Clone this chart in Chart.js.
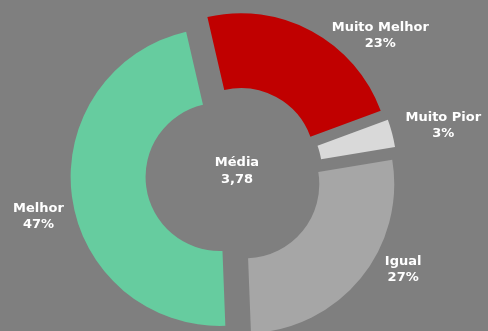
<!DOCTYPE html>
<html>
<head>
<meta charset="utf-8">
<script src="https://cdn.jsdelivr.net/npm/chart.js@4/dist/chart.umd.min.js"></script>
<style>
  html, body { margin: 0; padding: 0; background: #7f7f7f; }
  #wrap { width: 488px; height: 331px; position: relative; }
</style>
</head>
<body>
<div id="wrap"><canvas id="c" width="488" height="331"></canvas></div>
<script>
// Survey answers and their shares (%)
const categories = ['Muito Melhor', 'Muito Pior', 'Igual', 'Melhor'];
const shares = [23, 3, 27, 47];
const shareLabels = ['23%', '3%', '27%', '47%'];
const centerTitle = 'Média';
const centerValue = '3,78';

const sliceColors = ['#C00000', '#D9D9D9', '#A6A6A6', '#66CC9F'];
const FONT = 'bold 13px "DejaVu Sans", Verdana, sans-serif';
const EXPLODE = 14.5; // rigid outward shift of every slice, px

// label placement: turn (deg) from the slice's mid-angle, distance from centre (px)
const labelPlacement = [
  { turn: 18, dist: 202 },
  { turn: 1.6, dist: 215 },
  { turn: -9.9, dist: 194 },
  { turn: -4.5, dist: 200 }
];

// Draws each arc shifted along its mid-angle, then the slice and centre labels
const explodedSlices = {
  id: 'explodedSlices',
  beforeDatasetDraw(chart, args) {
    const ctx = chart.ctx;
    args.meta.data.forEach(arc => {
      const mid = (arc.startAngle + arc.endAngle) / 2;
      ctx.save();
      ctx.translate(Math.cos(mid) * EXPLODE, Math.sin(mid) * EXPLODE);
      arc.draw(ctx);
      ctx.restore();
    });
    return false;
  },
  afterDraw(chart) {
    const ctx = chart.ctx;
    const arcs = chart.getDatasetMeta(0).data;
    ctx.save();
    ctx.font = FONT;
    ctx.fillStyle = '#ffffff';
    ctx.textAlign = 'center';
    ctx.textBaseline = 'middle';
    arcs.forEach((arc, i) => {
      const p = labelPlacement[i];
      const a = (arc.startAngle + arc.endAngle) / 2 + p.turn * Math.PI / 180;
      const x = arc.x + Math.cos(a) * p.dist;
      const y = arc.y + Math.sin(a) * p.dist;
      ctx.fillText(categories[i], x, y - 8);
      ctx.fillText(shareLabels[i], x, y + 8);
    });
    const c = arcs[0];
    ctx.fillText(centerTitle, c.x + 3, c.y - 12);
    ctx.fillText(centerValue, c.x + 3, c.y + 5);
    ctx.restore();
  }
};

new Chart(document.getElementById('c'), {
  type: 'doughnut',
  data: {
    labels: categories,
    datasets: [{
      data: shares,
      backgroundColor: sliceColors,
      borderWidth: 0,
      hoverOffset: 0
    }]
  },
  options: {
    responsive: false,
    animation: false,
    events: [],
    rotation: -13,
    radius: 149,
    cutout: '49.7%',
    layout: { padding: { left: 0, right: 20, top: 19, bottom: 0 } },
    plugins: {
      legend: { display: false },
      tooltip: { enabled: false }
    }
  },
  plugins: [explodedSlices]
});
</script>
</body>
</html>
